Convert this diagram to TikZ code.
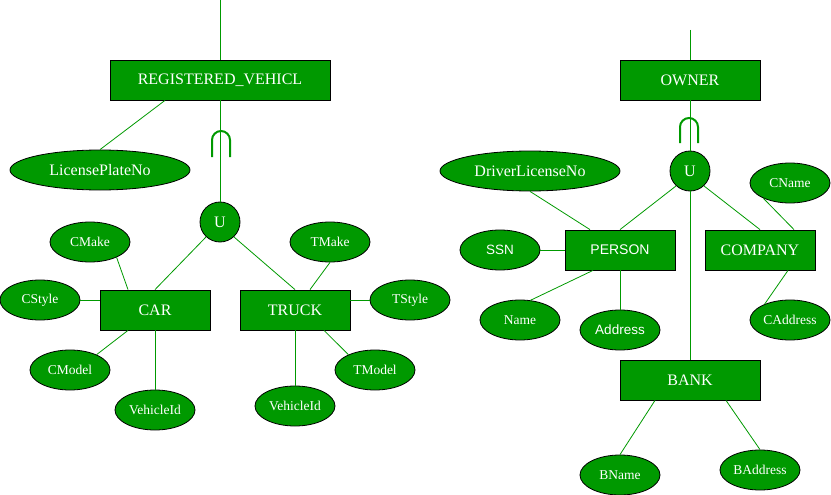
\documentclass[tikz,border=0pt]{standalone}
\usepackage{fontspec}
\setmainfont{Liberation Serif}
\setsansfont{Liberation Sans}
\usetikzlibrary{shapes.geometric}
\definecolor{grn}{HTML}{009900}
\begin{document}
\begin{tikzpicture}[x=1pt,y=-1pt,
  ent/.style={draw=black, fill=grn, text=white, rectangle, inner sep=0pt, minimum height=40pt, font=\fontsize{16}{18}\selectfont, line width=0.8pt},
  attr/.style={draw=black, fill=grn, text=white, ellipse, inner sep=0pt, minimum width=80pt, minimum height=40pt, font=\fontsize{13.5}{16}\selectfont, line width=0.8pt},
  sattr/.style={attr, font=\sffamily\fontsize{13.5}{16}\selectfont},
  uni/.style={draw=black, fill=grn, text=white, circle, inner sep=0pt, minimum size=40pt, font=\fontsize{16}{18}\selectfont, line width=0.8pt},
  ln/.style={draw=grn, line width=0.8pt},
  subsetmark/.style={draw=grn, line width=2pt}]
\useasboundingbox (0,0) rectangle (831,495);

% left part
\coordinate (t1) at (220,0);
\node[ent, minimum width=220pt] (rv) at (220,80) {REGISTERED\_VEHICL};
\node[attr, minimum width=180pt, font=\fontsize{16}{18}\selectfont] (lp) at (100,170) {LicensePlateNo};
\node[uni] (u1) at (220,222) {U};
\node[ent, minimum width=110pt] (car) at (155,310) {CAR};
\node[ent, minimum width=110pt] (truck) at (295,310) {TRUCK};
\node[attr] (cmake) at (90,242) {CMake};
\node[attr] (cstyle) at (40,300) {CStyle};
\node[attr] (cmodel) at (70,370) {CModel};
\node[attr] (vid1) at (155,410) {VehicleId};
\node[attr] (tmake) at (330,242) {TMake};
\node[attr] (tstyle) at (410,300) {TStyle};
\node[attr] (tmodel) at (375,370) {TModel};
\node[attr] (vid2) at (295,406) {VehicleId};

\draw[ln] (t1) -- (rv.north);
\draw[ln] (rv.south) -- (u1.north);
\draw[ln] ([xshift=-55pt]rv.south) -- (lp.north);
\draw[ln] (u1.227) -- (car.north);
\draw[ln] (u1.313) -- (truck.north);
\draw[ln] ([xshift=-27pt]car.north) -- (cmake.330);
\draw[ln] ([yshift=10pt]car.west) -- (cstyle.east);
\draw[ln] ([xshift=-27pt]car.south) -- (cmodel.30);
\draw[ln] (car.south) -- (vid1.north);
\draw[ln] ([xshift=15pt]truck.north) -- (tmake.south);
\draw[ln] ([yshift=10pt]truck.east) -- (tstyle.west);
\draw[ln] ([xshift=29pt]truck.south) -- (tmodel.150);
\draw[ln] (truck.south) -- (vid2.north);
\draw[subsetmark] (212,157) -- (212,140) arc[start angle=180, end angle=360, radius=9] -- (230,157);

% right part
\coordinate (t2) at (690,30);
\node[ent, minimum width=140pt] (own) at (690,80) {OWNER};
\node[uni] (u2) at (690,171) {U};
\node[attr, minimum width=180pt, font=\fontsize{16}{18}\selectfont] (dl) at (530,171) {DriverLicenseNo};
\node[attr] (cname) at (790,183) {CName};
\node[ent, minimum width=110pt, font=\sffamily\fontsize{14}{17}\selectfont] (person) at (620,250) {PERSON};
\node[ent, minimum width=110pt] (company) at (760,250) {COMPANY};
\node[sattr] (ssn) at (500,250) {SSN};
\node[attr] (name) at (520,320) {Name};
\node[sattr] (addr) at (620,330) {Address};
\node[attr] (caddr) at (790,320) {CAddress};
\node[ent, minimum width=140pt] (bank) at (690,380) {BANK};
\node[attr] (bname) at (620,475) {BName};
\node[attr] (baddr) at (760,470) {BAddress};

\draw[ln] (t2) -- (own.north);
\draw[ln] (own.south) -- (u2.north);
\draw[ln] (u2.227) -- (person.north);
\draw[ln] (u2.313) -- (company.north);
\draw[ln] (u2.south) -- (bank.north);
\draw[ln] (dl.south) -- ([xshift=-30pt]person.north);
\draw[ln] (cname.210) -- ([xshift=34pt]company.north);
\draw[ln] (ssn.east) -- (person.west);
\draw[ln] ([xshift=-27pt]person.south) -- (name.62);
\draw[ln] (person.south) -- (addr.north);
\draw[ln] ([xshift=28pt]company.south) -- (caddr.148);
\draw[ln] ([xshift=-35pt]bank.south) -- (bname.north);
\draw[ln] ([xshift=36pt]bank.south) -- (baddr.north);
\draw[subsetmark] (680,143) -- (680,127) arc[start angle=180, end angle=360, radius=9] -- (698,143);
\end{tikzpicture}
\end{document}
